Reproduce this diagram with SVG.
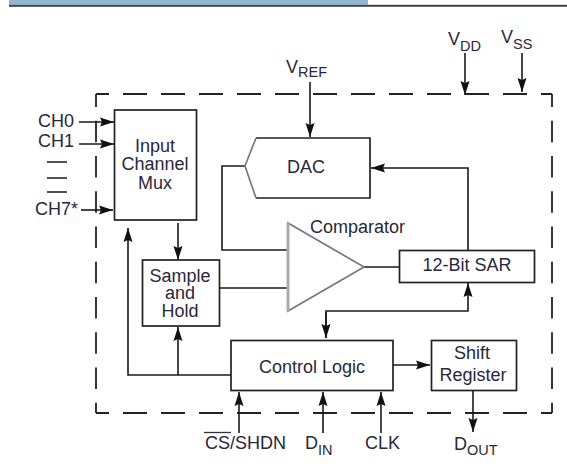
<svg xmlns="http://www.w3.org/2000/svg" width="567" height="475" viewBox="0 0 567 475">
<defs>
<marker id="a" markerUnits="userSpaceOnUse" markerWidth="15" markerHeight="11" refX="14" refY="5.500" orient="auto"><path d="M0,1 L14,5.500 L0,10 L2,5.500 Z" fill="#111"/></marker>
</defs>
<style>
.b{fill:#fff;stroke:#222;stroke-width:1.7}
.c{fill:none;stroke:#1a1a1a;stroke-width:1.6}
.d{fill:none;stroke:#222;stroke-width:1.8}
.t{font-family:"Liberation Sans",Arial,sans-serif;font-size:18px;fill:#28283a}
.s{font-size:14.500px}
.m{text-anchor:middle}
</style>
<rect x="0" y="0" width="567" height="475" fill="#fff"/>
<g id="header">
<rect x="9" y="0" width="359" height="4.800" fill="#8fb8d6"/>
<rect x="9" y="4.800" width="558" height="2" fill="#444"/>
</g>
<g id="boundary">
<path class="d" stroke-dasharray="24,14" stroke-dashoffset="11" d="M96,94 H552"/>
<path class="d" stroke-dasharray="24,14" stroke-dashoffset="11" d="M96,413 H552"/>
<path class="d" stroke-dasharray="21.500,13.750" stroke-dashoffset="8.500" d="M96,94 V413"/>
<path class="d" stroke-dasharray="21.500,13.750" stroke-dashoffset="8.500" d="M552,94 V413"/>
</g>
<g id="connectors">
<path class="c" d="M79,122 H114" marker-end="url(#a)"/>
<path class="c" d="M79,144 H114" marker-end="url(#a)"/>
<path class="c" d="M81,210 H113" marker-end="url(#a)"/>
<path class="c" d="M47,162 H67 M47,178 H67 M47,192 H67"/>
<path class="c" d="M310,82 V137" marker-end="url(#a)"/>
<path class="c" d="M465,53 V95" marker-end="url(#a)"/>
<path class="c" d="M522,53 V92" marker-end="url(#a)"/>
<path class="c" d="M468,250 V168 H371" marker-end="url(#a)"/>
<path class="c" d="M245,166 H222 V250 H288"/>
<path class="c" d="M216,288 H288"/>
<path class="c" d="M364,267 H402"/>
<path class="c" d="M178,223 V260" marker-end="url(#a)"/>
<path class="c" d="M233,375 H128 V228" marker-end="url(#a)"/>
<path class="c" d="M178,375 V327" marker-end="url(#a)"/>
<path class="c" d="M326,338 V311 H468 V283" marker-end="url(#a)"/>
<path class="c" d="M326,312 V338" marker-end="url(#a)"/>
<path class="c" d="M391,365 H430" marker-end="url(#a)"/>
<path class="c" d="M473,391 V432" marker-end="url(#a)"/>
<path class="c" d="M239,433 V392" marker-end="url(#a)"/>
<path class="c" d="M323,433 V392" marker-end="url(#a)"/>
<path class="c" d="M381,433 V392" marker-end="url(#a)"/>
</g>
<g id="mux"><rect class="b" x="114.500" y="110" width="82" height="110"/><text class="t m" x="155" y="152">Input<tspan x="155" dy="18">Channel</tspan><tspan x="155" dy="19">Mux</tspan></text></g>
<g id="dac"><path d="M256,198 H370 V138 H256" fill="#fff" stroke="#222" stroke-width="1.700"/><path d="M256,138 L245,166 L256,198" stroke="#777" stroke-width="1.700" fill="#fff"/><text class="t m" x="306" y="173">DAC</text></g>
<g id="comparator"><path d="M288,223 L364,267 L288,311 Z" fill="#fff" stroke="#777" stroke-width="1.700"/><path d="M288,223 V311" stroke="#aaa" stroke-width="3"/><text class="t" x="310" y="233">Comparator</text></g>
<g id="sar"><rect class="b" x="399.500" y="250.500" width="135" height="32"/><text class="t m" x="467" y="271">12-Bit SAR</text></g>
<g id="sample-hold"><rect class="b" x="142.500" y="260" width="77" height="66"/><text class="t m" x="180" y="282">Sample<tspan x="180" dy="17">and</tspan><tspan x="180" dy="18">Hold</tspan></text></g>
<g id="control-logic"><rect class="b" x="231" y="340.500" width="162" height="50"/><text class="t m" x="312" y="373">Control Logic</text></g>
<g id="shift-register"><rect class="b" x="431.500" y="340.500" width="85" height="50"/><text class="t m" x="472" y="359">Shift</text><text class="t m" x="473" y="381">Register</text></g>
<g id="labels">
<text class="t" x="38" y="127">CH0</text>
<text class="t" x="38" y="147">CH1</text>
<text class="t" x="35" y="215">CH7*</text>
<text class="t" x="286" y="73">V<tspan class="s" dy="4">REF</tspan></text>
<text class="t" x="448" y="45">V<tspan class="s" dy="6">DD</tspan></text>
<text class="t" x="501" y="43">V<tspan class="s" dy="6">SS</tspan></text>
<text class="t" x="205" y="449">CS/SHDN</text>
<path d="M204,432.500 H231" stroke="#333" stroke-width="1.300"/>
<text class="t" x="305" y="449">D<tspan class="s" dy="6">IN</tspan></text>
<text class="t" x="365" y="449">CLK</text>
<text class="t" x="454" y="450">D<tspan class="s" dy="5">OUT</tspan></text>
</g>
</svg>
